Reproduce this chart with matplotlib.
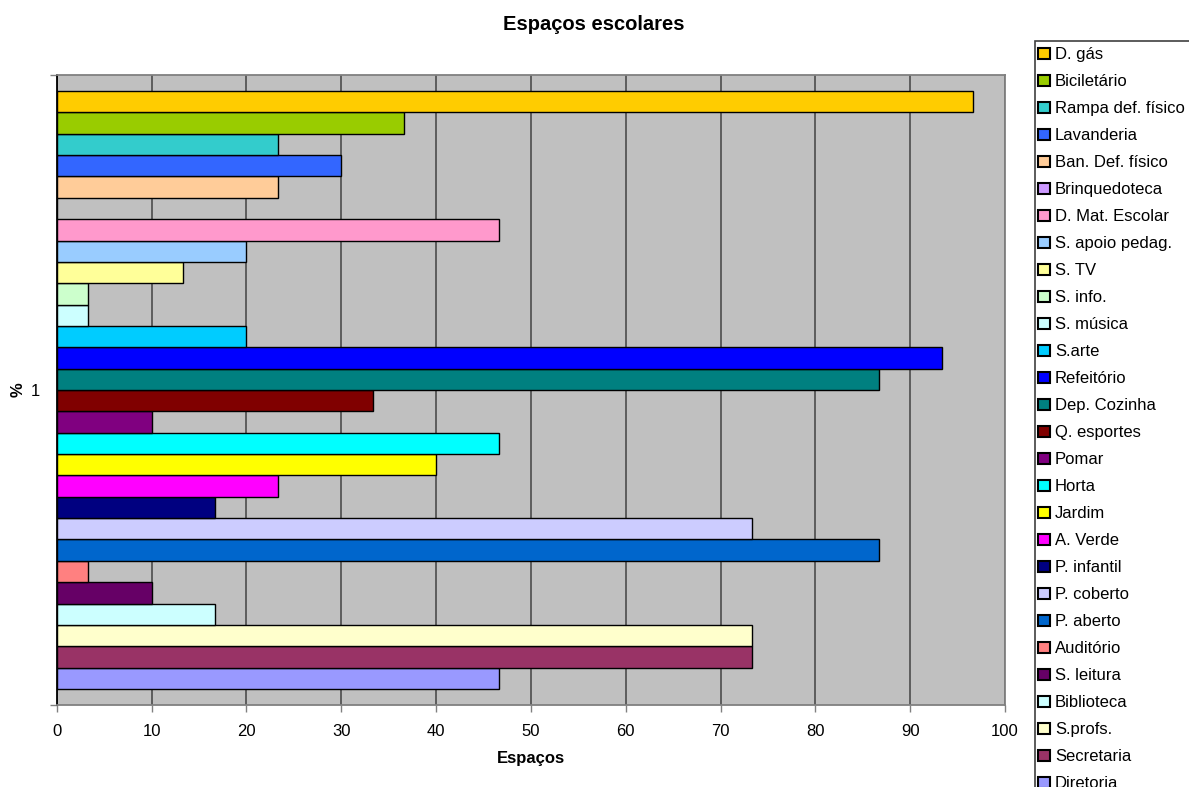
import matplotlib
matplotlib.use('Agg')
import matplotlib.pyplot as plt
from matplotlib.patches import Rectangle

plt.rcParams['font.family'] = ['Liberation Sans', 'DejaVu Sans']

# series, bottom to top
categories = ['Diretoria', 'Secretaria', 'S.profs.', 'Biblioteca', 'S. leitura',
              'Auditório', 'P. aberto', 'P. coberto', 'P. infantil', 'A. Verde',
              'Jardim', 'Horta', 'Pomar', 'Q. esportes', 'Dep. Cozinha',
              'Refeitório', 'S.arte', 'S. música', 'S. info.', 'S. TV',
              'S. apoio pedag.', 'D. Mat. Escolar', 'Brinquedoteca',
              'Ban. Def. físico', 'Lavanderia', 'Rampa def. físico',
              'Biciletário', 'D. gás']
values = [46.67, 73.33, 73.33, 16.67, 10.0,
          3.33, 86.67, 73.33, 16.67, 23.33,
          40.0, 46.67, 10.0, 33.33, 86.67,
          93.33, 20.0, 3.33, 3.33, 13.33,
          20.0, 46.67, 0.0,
          23.33, 30.0, 23.33,
          36.67, 96.67]
colors = ['#9999FF', '#993366', '#FFFFCC', '#CCFFFF', '#660066',
          '#FF8080', '#0066CC', '#CCCCFF', '#000080', '#FF00FF',
          '#FFFF00', '#00FFFF', '#800080', '#800000', '#008080',
          '#0000FF', '#00CCFF', '#CCFFFF', '#CCFFCC', '#FFFF99',
          '#99CCFF', '#FF99CC', '#CC99FF',
          '#FFCC99', '#3366FF', '#33CCCC',
          '#99CC00', '#FFCC00']
xticks = list(range(0, 101, 10))

fig = plt.figure(figsize=(11.89, 7.87), dpi=100)
ax = fig.add_axes([56.7 / 1189, 1 - 705 / 787, (1005 - 56.7) / 1189, (705 - 75) / 787])
ax.set_facecolor('#C0C0C0')

n = len(categories)
gap = 0.75
handles = []
for i, (cat, val, col) in enumerate(zip(categories, values, colors)):
    b = ax.barh(i, val, height=1.0, color=col, edgecolor='black', linewidth=1.0,
                label=cat, zorder=3)
    handles.append(b)

ax.set_xlim(0, 100)
ax.set_ylim(-0.5 - gap, n - 0.5 + gap)
ax.set_xticks(xticks)
ax.set_xticklabels([str(t) for t in xticks], fontsize=12)
ax.grid(axis='x', color='#555555', linewidth=1.3, zorder=1)
ax.tick_params(axis='x', length=5, width=1, color='#808080', pad=9)

ax.set_yticks([(n - 1) / 2])
ax.set_yticklabels(['1'], fontsize=12)
ax.tick_params(axis='y', which='major', length=0, pad=12)
ax.set_yticks([-0.5 - gap, n - 0.5 + gap], minor=True)
ax.tick_params(axis='y', which='minor', length=5, width=1, color='#808080')

for side in ['top', 'right', 'bottom']:
    ax.spines[side].set_color('#808080')
    ax.spines[side].set_linewidth(1.3)
ax.spines['left'].set_color('black')
ax.spines['left'].set_linewidth(1.3)

ax.set_xlabel('Espaços', fontsize=12, fontweight='bold', labelpad=8)
ax.set_ylabel('%', fontsize=12, fontweight='bold', labelpad=4)
fig.text(0.499, 1 - 25 / 787, 'Espaços escolares', fontsize=14.5,
         fontweight='bold', ha='center', va='center')

# legend box runs off the right and bottom edges
fig.patches.append(Rectangle((1035 / 1189, -0.05), 0.2, 1.05 - 41 / 787,
                             transform=fig.transFigure, facecolor='white',
                             edgecolor='#404040', linewidth=1.2))
leg = fig.legend(handles[::-1], categories[::-1], loc='upper left',
                 bbox_to_anchor=(1035 / 1189, 1 - 44 / 787), frameon=False,
                 fontsize=12, handlelength=0.7, handleheight=0.7,
                 handletextpad=0.3, labelspacing=0.72, borderpad=0.2,
                 borderaxespad=0)
for h in leg.legend_handles:
    h.set_linewidth(1.5)

fig.savefig('out.png', dpi=100)
